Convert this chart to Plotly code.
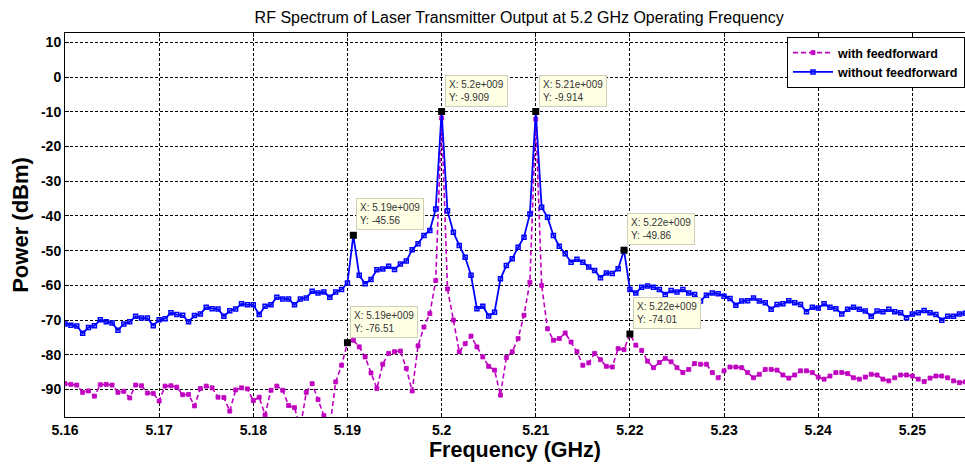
import plotly.graph_objects as go

# ---------------- data ----------------
freq_start = 5.16          # GHz, first sample
freq_step = 0.000625       # GHz, sample spacing

without_ff = [
    -71.1, -71.5, -71.7, -73.8, -72.1, -71.6, -69.9, -70.5, -70.8, -72.9,
    -71.1, -70.5, -68.9, -69.4, -69.4, -71.6, -69.9, -69.6, -67.9, -68.4,
    -68.6, -70.5, -68.7, -68.2, -66.3, -66.7, -66.8, -68.9, -67.3, -66.8,
    -65.3, -65.6, -65.6, -68.4, -66.0, -65.6, -63.4, -63.9, -63.9, -65.6,
    -63.9, -63.6, -61.7, -62.2, -61.9, -63.4, -61.9, -61.2, -59.3, -45.56,
    -57.1, -59.5, -58.3, -55.5, -55.3, -54.5, -55.4, -53.8, -53.0, -49.7,
    -48.0, -45.6, -44.2, -38.0, -9.909, -38.5, -44.7, -48.5, -51.9, -57.1,
    -66.7, -66.0, -68.8, -67.7, -58.1, -54.3, -52.3, -49.0, -46.1, -39.4,
    -9.914, -37.5, -40.4, -45.6, -48.7, -50.9, -53.3, -52.5, -53.3, -54.7,
    -55.7, -57.8, -56.4, -56.6, -55.2, -49.86, -61.2, -62.2, -60.5, -60.2,
    -60.5, -61.2, -62.6, -61.5, -61.9, -61.2, -62.2, -62.6, -64.5, -62.8,
    -62.2, -62.4, -63.1, -63.8, -65.7, -64.5, -64.4, -63.6, -64.5, -65.0,
    -66.9, -65.5, -65.3, -64.4, -65.0, -65.5, -67.6, -66.3, -66.5, -65.3,
    -66.3, -66.7, -68.2, -66.9, -66.3, -66.9, -67.4, -68.9, -67.4, -67.6,
    -66.9, -67.6, -67.9, -69.3, -68.2, -67.9, -67.2, -67.9, -68.4, -70.0,
    -68.9, -68.9, -68.2, -68.0,
]

with_ff = [
    -88.3, -88.5, -88.7, -90.8, -90.4, -91.9, -88.6, -88.5, -88.7, -90.8,
    -90.5, -92.4, -88.7, -88.9, -91.0, -91.1, -93.3, -89.0, -88.9, -89.3,
    -91.5, -91.4, -94.7, -89.7, -89.0, -89.5, -92.2, -92.3, -96.2, -90.1,
    -89.5, -89.8, -93.2, -92.2, -97.3, -90.2, -89.0, -90.2, -94.6, -95.2,
    -101.0, -90.8, -88.3, -92.9, -97.5, -101.0, -87.8, -83.0, -76.51, -75.8,
    -77.7, -80.6, -85.2, -89.7, -82.7, -79.6, -79.1, -78.9, -83.9, -90.4,
    -77.4, -72.0, -68.1, -58.6, -11.8, -61.0, -70.0, -79.1, -76.8, -74.6,
    -77.7, -80.6, -83.3, -84.4, -91.6, -80.8, -79.1, -75.3, -68.6, -59.1,
    -12.1, -60.0, -72.5, -75.8, -75.3, -73.7, -76.3, -79.1, -83.0, -82.3,
    -79.6, -81.4, -83.3, -83.5, -78.2, -78.5, -74.01, -77.2, -78.7, -81.8,
    -83.7, -82.2, -81.0, -82.0, -83.7, -85.1, -84.2, -82.5, -82.7, -82.7,
    -85.1, -86.6, -84.6, -83.5, -83.5, -83.7, -85.1, -86.6, -85.6, -84.2,
    -84.2, -84.4, -85.8, -86.7, -85.8, -84.6, -84.6, -85.1, -86.4, -87.0,
    -86.1, -85.1, -85.1, -85.4, -86.6, -87.0, -86.4, -85.6, -85.8, -87.0,
    -87.5, -86.6, -85.8, -85.8, -86.1, -87.0, -87.7, -86.7, -86.1, -86.1,
    -86.6, -87.5, -88.0, -87.8,
]

freq = [round(freq_start + k * freq_step, 6) for k in range(len(without_ff))]

# data-tip sample indices
tip_without_idx = [49, 64, 80, 95]
tip_with_idx = [48, 96]

x_tick_vals = [5.16, 5.17, 5.18, 5.19, 5.20, 5.21, 5.22, 5.23, 5.24, 5.25]
x_tick_text = ["5.16", "5.17", "5.18", "5.19", "5.2", "5.21", "5.22", "5.23", "5.24", "5.25"]
y_tick_vals = [10, 0, -10, -20, -30, -40, -50, -60, -70, -80, -90]
y_tick_text = ["10", "0", "-10", "-20", "-30", "-40", "-50", "-60", "-70", "-80", "-90"]

# ---------------- styles ----------------
MAG = "#C000C0"
BLU = "#0000FF"
FONT = "Liberation Sans"

fig = go.Figure()

fig.add_trace(go.Scatter(
    x=freq, y=with_ff, mode="lines+markers", name="with feedforward",
    line=dict(color=MAG, width=1.6, dash="5px,3px"),
    marker=dict(symbol="square", size=4, color=MAG, line=dict(width=0.8, color=MAG)),
))
fig.add_trace(go.Scatter(
    x=freq, y=without_ff, mode="lines+markers", name="without feedforward",
    line=dict(color=BLU, width=1.8),
    marker=dict(symbol="square-open", size=4, color=BLU, line=dict(width=1.5, color=BLU)),
))

# data-tip markers
tip_x = [freq[i] for i in tip_without_idx] + [freq[i] for i in tip_with_idx]
tip_y = [without_ff[i] for i in tip_without_idx] + [with_ff[i] for i in tip_with_idx]
fig.add_trace(go.Scatter(
    x=tip_x, y=tip_y, mode="markers", showlegend=False,
    marker=dict(symbol="square", size=7, color="black"),
    hoverinfo="skip",
))

for xv, yv in zip(tip_x, tip_y):
    label = "X: %se+009<br>Y: %s" % (format(xv, ".3g"), format(yv, ".4g"))
    fig.add_annotation(
        x=xv, y=yv, xref="x", yref="y", text=label, showarrow=False,
        xanchor="left", yanchor="bottom", xshift=3, yshift=5, align="left",
        font=dict(family=FONT, size=10, color="#333333"),
        bgcolor="#FFFFE6", bordercolor="#CFCFB8", borderwidth=1, borderpad=3,
    )

fig.update_layout(
    width=965, height=465,
    margin=dict(l=65, r=0, t=33, b=48, autoexpand=False),
    paper_bgcolor="white", plot_bgcolor="white",
    title=dict(
        text="RF Spectrum of Laser Transmitter Output at 5.2 GHz Operating Frequency",
        font=dict(family=FONT, size=16, color="black"),
        x=0.538, xanchor="center", y=1 - 17 / 465, yanchor="middle",
    ),
    showlegend=True,
    legend=dict(
        x=1.0, xanchor="right", y=1 - 4 / 384, yanchor="top",
        bgcolor="white", bordercolor="black", borderwidth=1,
        font=dict(family=FONT, size=12.5, color="black", weight="bold"),
        tracegroupgap=0, itemwidth=40,
    ),
    font=dict(family=FONT, color="black"),
)

fig.update_xaxes(
    range=[5.16, 5.25559], automargin=False,
    tickvals=x_tick_vals, ticktext=x_tick_text,
    tickfont=dict(family=FONT, size=14, color="black", weight="bold"),
    ticks="inside", ticklen=4, tickcolor="black",
    showline=True, linecolor="black", linewidth=1, mirror="ticks",
    showgrid=True, gridcolor="#000000", gridwidth=1, griddash="3px,2px",
    zeroline=False,
    title=dict(text="Frequency (GHz)", standoff=5,
               font=dict(family=FONT, size=21.5, color="black", weight="bold")),
)
fig.update_yaxes(
    range=[-97.9, 12.7], automargin=False,
    tickvals=y_tick_vals, ticktext=y_tick_text,
    tickfont=dict(family=FONT, size=14, color="black", weight="bold"),
    ticks="inside", ticklen=4, tickcolor="black",
    showline=True, linecolor="black", linewidth=1, mirror="ticks",
    showgrid=True, gridcolor="#000000", gridwidth=1, griddash="3px,2px",
    zeroline=False,
    title=dict(text="Power (dBm)", standoff=6,
               font=dict(family=FONT, size=22, color="black", weight="bold")),
)

fig.write_html("out.html", config={"displayModeBar": False},
               post_script="document.body.style.margin='0';")
